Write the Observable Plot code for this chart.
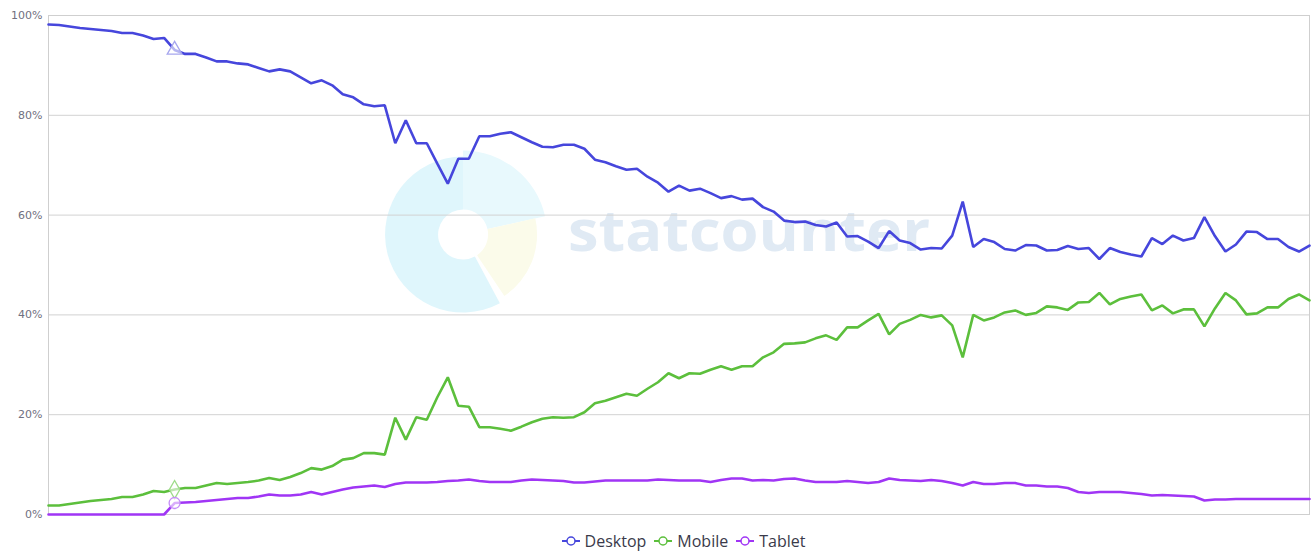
<!DOCTYPE html>
<html><head><meta charset="utf-8">
<script src="https://cdn.jsdelivr.net/npm/d3@7"></script>
<script src="https://cdn.jsdelivr.net/npm/@observablehq/plot@0.6"></script>
<style>
body{margin:0;background:#fff;}
#chart{width:1311px;}
.legend{display:flex;justify-content:center;align-items:center;height:25px;font-family:"Open Sans",sans-serif;font-size:16px;color:#3a3a4a;padding-left:56px;}
.legend span.item{display:inline-flex;align-items:center;margin:0 4px;}
.legend svg{margin-right:5px;}
</style></head><body><div id="chart"></div><div class="legend" id="legend"></div>
<script>
const seriesNames = ["Desktop", "Mobile", "Tablet"];
const seriesColors = ["#4646dc", "#5cbf3c", "#a035f5"];
const hoverColors = ["#a6a6ee", "#9edc8a", "#c58cf8"];
const hoverSymbols = ["triangle", "diamond", "circle"];
const yTicks = [0, 20, 40, 60, 80, 100];
const hoverIndex = 12;

const desktop = [98.2,98.1,97.8,97.5,97.3,97.1,96.9,96.5,96.5,96.0,95.3,95.5,93.1,92.3,92.3,91.6,90.8,90.8,90.4,90.2,
89.5,88.8,89.2,88.8,87.6,86.4,87.0,86.0,84.2,83.6,82.2,81.8,82.0,74.4,79.0,74.4,74.4,70.3,66.3,71.3,
71.3,75.8,75.8,76.3,76.6,75.6,74.6,73.7,73.6,74.1,74.1,73.3,71.1,70.6,69.8,69.1,69.3,67.7,66.5,64.7,
65.9,64.9,65.3,64.4,63.4,63.8,63.1,63.3,61.6,60.7,58.9,58.6,58.7,58.0,57.7,58.5,55.7,55.8,54.7,53.4,
56.8,54.9,54.4,53.1,53.4,53.3,55.9,62.7,53.6,55.2,54.6,53.2,52.9,54.0,53.9,52.9,53.0,53.8,53.2,53.4,
51.2,53.4,52.6,52.1,51.7,55.4,54.2,55.9,54.9,55.4,59.6,55.8,52.7,54.1,56.7,56.6,55.2,55.2,53.6,52.7,53.9];

const mobile = [1.8,1.8,2.1,2.4,2.7,2.9,3.1,3.5,3.5,4.0,4.7,4.5,5.0,5.3,5.3,5.8,6.3,6.1,6.3,6.5,
6.8,7.3,6.9,7.5,8.3,9.3,9.0,9.7,11.0,11.3,12.3,12.3,12.0,19.4,15.0,19.5,19.0,23.5,27.5,21.8,
21.6,17.5,17.5,17.2,16.8,17.6,18.5,19.2,19.5,19.4,19.5,20.5,22.3,22.8,23.5,24.2,23.8,25.2,26.5,28.3,
27.3,28.3,28.2,29.0,29.7,29.0,29.7,29.7,31.5,32.5,34.2,34.3,34.5,35.3,35.9,35.0,37.5,37.5,38.9,40.2,
36.1,38.2,39.0,40.0,39.5,39.9,37.9,31.5,40.0,38.9,39.5,40.5,40.9,40.0,40.4,41.7,41.5,41.0,42.5,42.6,
44.4,42.1,43.2,43.7,44.1,40.9,41.9,40.3,41.1,41.1,37.7,41.3,44.4,42.9,40.1,40.3,41.5,41.5,43.2,44.1,42.9];

const tablet = [0,0,0,0,0,0,0,0,0,0,0,0,2.3,2.4,2.5,2.7,2.9,3.1,3.3,3.3,
3.6,4.0,3.8,3.8,4.0,4.5,4.0,4.5,5.0,5.4,5.6,5.8,5.5,6.1,6.4,6.4,6.4,6.5,6.7,6.8,
7.0,6.7,6.5,6.5,6.5,6.8,7.0,6.9,6.8,6.7,6.4,6.4,6.6,6.8,6.8,6.8,6.8,6.8,7.0,6.9,
6.8,6.8,6.8,6.5,6.9,7.2,7.2,6.8,6.9,6.8,7.1,7.2,6.8,6.5,6.5,6.5,6.7,6.5,6.3,6.5,
7.2,6.9,6.8,6.7,6.9,6.7,6.3,5.8,6.5,6.1,6.1,6.3,6.3,5.8,5.8,5.6,5.6,5.3,4.5,4.3,
4.5,4.5,4.5,4.3,4.1,3.8,3.9,3.8,3.7,3.6,2.8,3.0,3.0,3.1,3.1,3.1,3.1,3.1,3.1,3.1,3.1];

const seriesValues = [desktop, mobile, tablet];
const data = [];
seriesNames.forEach((s, k) => seriesValues[k].forEach((v, i) => data.push({series: s, i, v})));
const hoverData = data.filter(d => d.i === hoverIndex);

const plot = Plot.plot({
  width: 1311, height: 528,
  marginLeft: 48, marginRight: 2, marginTop: 15, marginBottom: 14,
  x: {domain: [0, desktop.length - 1], axis: null},
  y: {domain: [0, 100], axis: null},
  color: {domain: seriesNames, range: seriesColors},
  symbol: {domain: seriesNames, range: hoverSymbols},
  style: {fontFamily: "DejaVu Sans, sans-serif", fontSize: "11px", background: "#fff"},
  marks: [
    Plot.gridY(yTicks, {stroke: "#d2d2d2", strokeOpacity: 1}),
    Plot.frame({stroke: "#cfcfcf"}),
    Plot.axisY(yTicks, {tickSize: 0, tickPadding: 6, tickFormat: d => d + "%", fill: "#707080", label: null}),
    Plot.line(data, {x: "i", y: "v", z: "series", stroke: "series", strokeWidth: 2.6, strokeLinejoin: "miter"}),
    Plot.dot(hoverData, {x: "i", y: "v", symbol: "series", r: 5.5, fill: "white", fillOpacity: 0.6,
      stroke: d => hoverColors[seriesNames.indexOf(d.series)], strokeWidth: 1.3})
  ]
});
document.getElementById("chart").appendChild(plot);

// statcounter watermark (decoration, behind the marks)
const svg = d3.select(plot);
const xs = plot.scale("x"), ys = plot.scale("y");
const wm = svg.insert("g", "g").attr("pointer-events", "none");
const cx = xs.apply(39.5), cy = ys.apply(56);
const arc = d3.arc();
const pieces = [
  {a0: 0, a1: 1.35, r1: 84, c: "#e8f9fd"},
  {a0: 1.35, a1: 2.55, r1: 74, c: "#fbfbea"},
  {a0: 2.65, a1: 2 * Math.PI, r1: 78, c: "#dff6fc"}
];
pieces.forEach(p => wm.append("path")
  .attr("transform", `translate(${cx},${cy})`)
  .attr("d", arc({innerRadius: 25, outerRadius: p.r1, startAngle: p.a0, endAngle: p.a1}))
  .attr("fill", p.c));
wm.append("text").attr("x", cx + 105).attr("y", cy + 16)
  .attr("text-anchor", "start")
  .attr("font-family", "Open Sans, sans-serif").attr("font-weight", "bold").attr("font-size", 58)
  .attr("textLength", 362).attr("lengthAdjust", "spacingAndGlyphs")
  .attr("fill", "#e0eaf4").text("statcounter");

// legend
const legend = document.getElementById("legend");
seriesNames.forEach((s, k) => {
  const item = document.createElement("span");
  item.className = "item";
  item.innerHTML = `<svg width="18" height="12"><line x1="0" y1="6" x2="18" y2="6" stroke="${seriesColors[k]}" stroke-width="2"/><circle cx="9" cy="6" r="4" fill="#fff" stroke="${seriesColors[k]}" stroke-width="1.5"/></svg>`;
  const t = document.createElement("span");
  t.textContent = s;
  item.appendChild(t);
  legend.appendChild(item);
});
</script></body></html>
